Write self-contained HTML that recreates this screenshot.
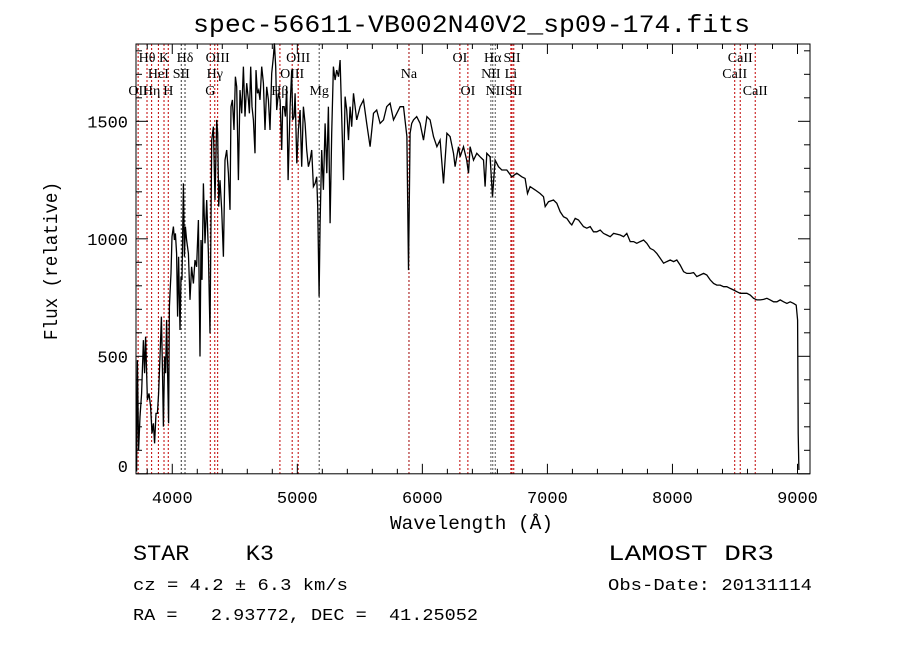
<!DOCTYPE html>
<html><head><meta charset="utf-8"><style>
html,body{margin:0;padding:0;background:#fff;}
svg{display:block;}
text{white-space:pre;}
.m{font-family:"Liberation Mono",monospace;fill:#000;}
.s{font-family:"Liberation Serif",serif;font-size:14px;fill:#000;}
</style></head><body>
<svg id="chart" width="900" height="649" viewBox="0 0 900 649" xmlns="http://www.w3.org/2000/svg" xml:space="preserve">
<rect width="900" height="649" fill="#fff"/>
<text class="m" x="193" y="32" font-size="25" textLength="557" lengthAdjust="spacingAndGlyphs">spec-56611-VB002N40V2_sp09-174.fits</text>
<g id="lines"></g>
<g id="linelabels"></g>
<path id="spec" fill="none" stroke="#000" stroke-width="1.3"/>
<rect x="136" y="44" width="674" height="429.8" fill="none" stroke="#000" stroke-width="1"/>
<g id="ticks" stroke="#000" stroke-width="1"></g>
<g id="ticklabels"></g>
<text class="m" x="390" y="529" font-size="19" textLength="163" lengthAdjust="spacingAndGlyphs">Wavelength (Å)</text>
<text class="m" transform="translate(57,340) rotate(-90)" font-size="19" textLength="158" lengthAdjust="spacingAndGlyphs">Flux (relative)</text>
<text class="m" x="133" y="560" font-size="22" textLength="141" lengthAdjust="spacingAndGlyphs">STAR    K3</text>
<text class="m" x="608" y="560" font-size="22" textLength="166" lengthAdjust="spacingAndGlyphs">LAMOST DR3</text>
<text class="m" x="133" y="590" font-size="17" textLength="215" lengthAdjust="spacingAndGlyphs">cz = 4.2 ± 6.3 km/s</text>
<text class="m" x="608" y="590" font-size="17" textLength="204" lengthAdjust="spacingAndGlyphs">Obs-Date: 20131114</text>
<text class="m" x="133" y="620" font-size="17" textLength="345" lengthAdjust="spacingAndGlyphs">RA =   2.93772, DEC =  41.25052</text>
</svg>
<script>
const wave = [3715,3721,3731,3742,3755,3769,3779,3787,3801,3814,3827,3838,3849,3859,3870,3881,3891,3902,3913,3921,3929,3939,3947,3955,3963,3971,3977,3982,3990,3998,4009,4017,4025,4035,4043,4051,4062,4070,4078,4089,4097,4105,4115,4129,4142,4155,4169,4182,4195,4209,4222,4230,4238,4249,4262,4275,4289,4302,4315,4329,4342,4355,4363,4371,4382,4395,4409,4422,4435,4449,4462,4470,4481,4494,4505,4515,4529,4542,4555,4569,4582,4595,4609,4617,4627,4638,4649,4662,4670,4681,4691,4702,4715,4729,4742,4755,4769,4782,4795,4809,4817,4827,4835,4849,4862,4875,4883,4894,4905,4915,4926,4934,4942,4955,4963,4974,4982,4996,5009,5022,5035,5049,5062,5075,5089,5102,5115,5129,5142,5155,5163,5174,5182,5195,5209,5222,5236,5249,5262,5275,5289,5302,5315,5329,5342,5355,5369,5382,5395,5409,5422,5435,5449,5475,5502,5529,5555,5582,5609,5635,5662,5689,5715,5742,5769,5796,5822,5849,5876,5889,5902,5915,5929,5955,5982,6009,6036,6062,6089,6116,6142,6169,6196,6222,6249,6262,6289,
6302,6329,6355,6369,6382,6409,6435,6462,6489,6502,6515,6542,6561,6582,6609,6635,6675,6715,6755,6795,6822,6841,6862,6902,6942,6969,6982,7009,7049,7075,7102,7129,7155,7182,7195,7222,7249,7289,7315,7342,7369,7395,7422,7449,7475,7502,7529,7582,7609,7635,7662,7689,7715,7742,7769,7795,7822,7849,7875,7902,7929,7955,7982,8009,8035,8062,8089,8115,8142,8169,8195,8222,8249,8275,8302,8329,8355,8382,8409,8435,8462,8489,8515,8542,8569,8595,8622,8649,8675,8702,8729,8755,8782,8809,8835,8862,8889,8915,8942,8969,8990,9001,9006,9011];
const flux = [10,484,101,243,342,569,428,584,314,342,286,172,215,130,257,257,342,499,669,456,201,499,428,655,428,215,711,768,853,1009,1052,995,1023,938,669,924,612,839,825,1236,924,1052,995,938,740,881,810,910,881,1080,499,995,825,1236,981,1165,938,598,1420,1477,1165,1506,1449,1137,1250,1123,924,1335,1378,1279,1123,1562,1591,1463,1690,1647,1250,1633,1534,1733,1520,1662,1591,1534,1733,1562,1506,1364,1718,1619,1633,1591,1733,1662,1463,1647,1591,1463,1704,1775,1832,1733,1548,1619,1591,1378,1562,1562,1520,1647,1250,1406,1562,1718,1506,1520,1619,1321,1463,1548,1307,1562,1491,1378,1307,1335,1378,1222,1236,1264,1137,754,1066,1378,1208,1491,1279,1562,1066,1449,1733,1676,1718,1690,1761,1520,1250,1605,1548,1420,1562,1477,1619,1506,1562,1591,1491,1392,1534,1548,1491,1506,1562,1577,1506,1534,1562,1562,1435,867,1449,1491,1506,1520,1491,1420,1520,1506,1435,1392,1420,1236,1449,1435,1364,1307,1392,
1349,1392,1335,1279,1392,1335,1364,1349,1335,1222,1364,1349,1179,1335,1307,1293,1293,1264,1279,1264,1257,1193,1222,1208,1193,1179,1137,1158,1165,1151,1115,1094,1087,1066,1059,1087,1080,1052,1045,1052,1030,1030,1037,1023,1016,1009,1023,1016,1009,1023,988,988,981,988,995,981,959,952,938,917,896,903,910,903,910,888,860,853,853,856,839,846,853,846,825,810,803,803,796,796,789,782,775,768,768,768,761,747,740,740,742,747,740,732,732,740,732,725,732,725,718,654,172,16];
const lineWave = [3727,3798,3835,3889,3934,3968,4072,4102,4304,4340,4363,4861,4959,5007,5175,5893,6300,6364,6548,6563,6583,6708,6717,6731,8498,8542,8662];
const lineName = ["OII","Hθ","Hη","HeI","K","H","SII","Hδ","G","Hγ","OIII","Hβ","OIII","OIII","Mg","Na","OI","OI","NII","Hα","NII","Li","SII","SII","CaII","CaII","CaII"];
const lineRow = [2,0,2,1,0,2,1,0,2,1,0,2,1,0,2,1,0,2,1,0,2,1,0,2,1,0,2];
const lineColor = ["#c00000","#c00000","#c00000","#c00000","#c00000","#c00000","#333","#333","#c00000","#c00000","#c00000","#c00000","#c00000","#c00000","#444","#a00000","#c00000","#c00000","#555","#555","#555","#c00000","#c00000","#c00000","#c00000","#c00000","#c00000"];
const xTicks = [4000,5000,6000,7000,8000,9000];
const yTicks = [0,500,1000,1500];

const X0=136, X1=810, Y0=473.8, Y1=44, WMIN=3710, WMAX=9100, FMIN=0, FMAX=1829;
function xs(w){return X0+(w-WMIN)/(WMAX-WMIN)*(X1-X0);}
function ys(f){return Y0-(f-FMIN)/(FMAX-FMIN)*(Y0-Y1);}
const NS="http://www.w3.org/2000/svg";
function mk(tag,attrs,parent){const e=document.createElementNS(NS,tag);for(const k in attrs)e.setAttribute(k,attrs[k]);parent.appendChild(e);return e;}

let d="";
for(let i=0;i<wave.length;i++){d+=(i?"L":"M")+xs(wave[i]).toFixed(1)+","+ys(Math.max(-30,flux[i])).toFixed(1);}
document.getElementById('spec').setAttribute('d',d);

const gl=document.getElementById('lines'), gll=document.getElementById('linelabels');
const rowY=[62,78,95];
for(let i=0;i<lineWave.length;i++){
  const x=xs(lineWave[i]);
  const l=mk('line',{x1:x,x2:x,y1:Y1,y2:Y0,stroke:lineColor[i],'stroke-width':1,'stroke-dasharray':'2,2'},gl);
  
  
  const t=mk('text',{x:x,y:rowY[lineRow[i]],'text-anchor':'middle','class':'s'},gll);
  t.textContent=lineName[i];
  
  
}

const gt=document.getElementById('ticks'), gtl=document.getElementById('ticklabels');
for(let w=3800;w<=9100;w+=200){
  const x=xs(w); const major=(w%1000===0); const len=major?10:5;
  mk('line',{x1:x,x2:x,y1:Y0,y2:Y0-len},gt);
  mk('line',{x1:x,x2:x,y1:Y1,y2:Y1+len},gt);
}
for(let f=0;f<=1800;f+=100){
  const y=ys(f); const major=(f%500===0); const len=major?12:6;
  mk('line',{x1:X0,x2:X0+len,y1:y,y2:y},gt);
  mk('line',{x1:X1,x2:X1-len,y1:y,y2:y},gt);
}
for(const w of xTicks){
  const t=mk('text',{x:xs(w),y:Y0+29,'text-anchor':'middle','class':'m','font-size':17},gtl);
  t.textContent=w;
  
  
}
for(const f of yTicks){
  const t=mk('text',{x:X0-8,y:Math.min(ys(f)+6,472),'text-anchor':'end','class':'m','font-size':17},gtl);
  t.textContent=f;
  
  
}
</script>
</body></html>
